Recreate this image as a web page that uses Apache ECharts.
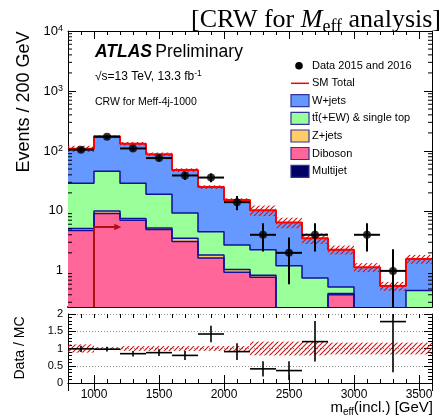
<!DOCTYPE html>
<html>
<head>
<meta charset="utf-8">
<title>CRW for Meff analysis</title>
<script src="https://cdn.jsdelivr.net/npm/echarts@6.0.0/dist/echarts.min.js"></script>
<style>
  html, body { margin: 0; padding: 0; background: #ffffff; }
  #chart { width: 442px; height: 416px; }
</style>
</head>
<body>
<div id="chart"></div>
<script>
// ---- m_eff binning (GeV) ----
const binLow = [800, 1000, 1200, 1400, 1600, 1800, 2000, 2200, 2400, 2600, 2800, 3000, 3200, 3400];
const binWidth = 200;

// ---- background predictions, events / 200 GeV ----
const wjets    = [80, 130, 103, 69, 38.8, 20.5, 12.5, 8.0, 5.2, 2.75, 1.72, 0.95, 0.36, 1.11];
const ttbar    = [23.8, 36, 21.5, 13.8, 5.7, 2.66, 1.65, 1.4, 1.02, 0.66, 0.12, 0.15, 0.15, 0.37];
const zjets    = [0.4, 0.9, 0.5, 0.3, 0.4, 0.2, 0.1, 0.07, 0.05, 0.05, 0.02, 0.02, 0.02, 0.05];
const diboson  = [4.68, 9.07, 6.98, 4.89, 3.09, 1.63, 0.95, 0.78, 0.15, 0.05, 0.40, 0.03, 0.03, 0.05];
const multijet = [0.02, 0.03, 0.02, 0.01, 0.01, 0.01, 0, 0, 0, 0, 0, 0, 0, 0];

// relative uncertainty on the SM total
const smRelUnc = [0.12, 0.04, 0.07, 0.07, 0.07, 0.07, 0.07, 0.2, 0.2, 0.2, 0.17, 0.17, 0.17, 0.17];

// ---- observed data 2015+2016 ----
const dataObs     = [105, 172, 110, 76, 39, 36, 14, 4, 2, 4, null, 4, 1, null];
const dataErrUp   = [10.2, 13.1, 10.5, 8.7, 6.2, 6.0, 3.7, 2.2, 1.6, 2.2, null, 2.2, 1.3, null];
const dataErrDown = [10.2, 13.1, 10.5, 8.7, 6.2, 6.0, 3.7, 1.9, 1.4, 1.9, null, 1.9, 1.0, null];

// ---- Data / MC ----
const ratioVal     = [0.99, 0.98, 0.85, 0.88, 0.80, 1.42, 0.91, 0.41, 0.36, 1.20, null, null, 1.78, null];
const ratioErrUp   = [0.09, 0.07, 0.08, 0.10, 0.13, 0.24, 0.24, 0.22, 0.27, 0.60, null, null, 1.80, null];
const ratioErrDown = [0.09, 0.07, 0.08, 0.10, 0.13, 0.24, 0.24, 0.22, 0.27, 0.58, null, null, 1.47, null];

// ---- selection arrow (m_eff > 1000 GeV) ----
const cutValue = 1000;
const cutArrowHeight = 5.4;
const cutArrowTip = 1210;

// ---- axis ranges / tick values ----
const xMin = 800, xMax = 3600;
const yMin = 0.25, yMax = 10000;
const yMinorTicks = [];
for (let e = -1; e <= 3; e++) {
  for (let m = 2; m <= 9; m++) {
    const v = m * Math.pow(10, e);
    if (v > yMin && v < yMax) yMinorTicks.push(v);
  }
}

const FONT = "'Liberation Sans', Arial, Helvetica, sans-serif";
const SERIF = "'Liberation Serif', 'Times New Roman', serif";
const OUTLINE = '#10109a';

const samples = [
  { name: 'Multijet', values: multijet, color: '#000066' },
  { name: 'Diboson', values: diboson, color: '#ff6699' },
  { name: 'Z+jets', values: zjets, color: '#ffcc66' },
  { name: 'tt\u0304(+EW) & single top', values: ttbar, color: '#99ff99' },
  { name: 'W+jets', values: wjets, color: '#6699ff' }
];

// cumulative stack levels, bottom to top
let running = binLow.map(() => 0);
const cumLevels = samples.map(s => {
  running = running.map((r, i) => r + s.values[i]);
  return running.slice();
});
const smTotal = cumLevels[cumLevels.length - 1];

function makeHatch(color) {
  const c = document.createElement('canvas');
  const s = 5;
  c.width = s; c.height = s;
  const g = c.getContext('2d');
  g.strokeStyle = color;
  g.lineWidth = 1.1;
  g.beginPath();
  g.moveTo(0, s); g.lineTo(s, 0);
  g.moveTo(-1, 1); g.lineTo(1, -1);
  g.moveTo(s - 1, s + 1); g.lineTo(s + 1, s - 1);
  g.stroke();
  return c;
}
const hatch = { image: makeHatch('#d01010'), repeat: 'repeat' };

function stackFill(levels, color, z) {
  return {
    type: 'custom', xAxisIndex: 0, yAxisIndex: 0, z: z, silent: true, clip: true,
    data: binLow.map((x, i) => [x, x + binWidth, levels[i]]),
    encode: { x: [0, 1], y: 2 },
    renderItem: (params, api) => {
      const top = api.value(2);
      if (!(top > yMin)) return null;
      const a = api.coord([api.value(0), Math.min(top, yMax)]);
      const b = api.coord([api.value(1), yMin]);
      return { type: 'rect', shape: { x: a[0], y: a[1], width: b[0] - a[0], height: b[1] - a[1] },
               style: { fill: color } };
    }
  };
}

function stepLine(levels, color, width, z) {
  const pts = binLow.map((x, i) => [x, Math.max(levels[i], 1e-3)]);
  pts.push([xMax, Math.max(levels[levels.length - 1], 1e-3)]);
  return {
    type: 'line', xAxisIndex: 0, yAxisIndex: 0, step: 'end', data: pts, symbol: 'none',
    lineStyle: { color: color, width: width }, z: z, silent: true, clip: true
  };
}

const series = [];
// filled stack, painted from the top level down
for (let k = samples.length - 1; k >= 0; k--) {
  series.push(stackFill(cumLevels[k], samples[k].color, 2 + (samples.length - k)));
}
for (let k = samples.length - 2; k >= 0; k--) {
  series.push(stepLine(cumLevels[k], OUTLINE, 1.5, 10));
}

// SM uncertainty band (main panel)
series.push({
  type: 'custom', xAxisIndex: 0, yAxisIndex: 0, z: 12, silent: true, clip: true,
  data: binLow.map((x, i) => [x, x + binWidth, smTotal[i] * (1 - smRelUnc[i]), smTotal[i] * (1 + smRelUnc[i])]),
  encode: { x: [0, 1], y: [2, 3] },
  renderItem: (params, api) => {
    const lo = Math.max(api.value(2), yMin), hi = api.value(3);
    if (hi <= yMin) return null;
    const a = api.coord([api.value(0), hi]);
    const b = api.coord([api.value(1), lo]);
    return { type: 'rect', shape: { x: a[0], y: a[1], width: b[0] - a[0], height: b[1] - a[1] },
             style: { fill: hatch } };
  }
});

// cut arrow
series.push({
  type: 'custom', xAxisIndex: 0, yAxisIndex: 0, z: 13, silent: true, clip: true,
  data: [[cutValue, cutArrowHeight, cutArrowTip]],
  encode: { x: [0, 2], y: 1 },
  renderItem: (params, api) => {
    const base = api.coord([api.value(0), yMin]);
    const top = api.coord([api.value(0), api.value(1)]);
    const tip = api.coord([api.value(2), api.value(1)]);
    const col = '#b01010';
    return { type: 'group', children: [
      { type: 'polyline', shape: { points: [base, top, [tip[0] - 5, tip[1]]] },
        style: { stroke: col, lineWidth: 2, fill: null } },
      { type: 'polygon', shape: { points: [[tip[0], tip[1]], [tip[0] - 7, tip[1] - 3.2], [tip[0] - 7, tip[1] + 3.2]] },
        style: { fill: col } }
    ] };
  }
});

// SM total
series.push(stepLine(smTotal, '#ff0000', 2, 14));

// data error bars + markers
const dataPts = [];
binLow.forEach((x, i) => {
  if (dataObs[i] != null) dataPts.push([x + binWidth / 2, dataObs[i], dataErrDown[i], dataErrUp[i]]);
});
series.push({
  type: 'custom', xAxisIndex: 0, yAxisIndex: 0, z: 20, silent: true, clip: true,
  data: dataPts,
  encode: { x: 0, y: 1 },
  renderItem: (params, api) => {
    const xc = api.value(0), y = api.value(1);
    const lo = Math.max(y - api.value(2), yMin * 0.5), hi = y + api.value(3);
    const l = api.coord([xc - binWidth / 2, y]), r = api.coord([xc + binWidth / 2, y]);
    const d = api.coord([xc, lo]), u = api.coord([xc, hi]);
    return { type: 'group', children: [
      { type: 'line', shape: { x1: l[0], y1: l[1], x2: r[0], y2: r[1] }, style: { stroke: '#000', lineWidth: 2 } },
      { type: 'line', shape: { x1: d[0], y1: d[1], x2: u[0], y2: u[1] }, style: { stroke: '#000', lineWidth: 2 } }
    ] };
  }
});
series.push({
  type: 'scatter', xAxisIndex: 0, yAxisIndex: 0, z: 21, silent: true,
  symbol: 'circle', symbolSize: 8, itemStyle: { color: '#000' },
  data: dataPts.map(p => [p[0], p[1]])
});

// minor ticks of the log axis (both sides)
series.push({
  type: 'custom', xAxisIndex: 0, yAxisIndex: 0, z: 30, silent: true, clip: false,
  data: yMinorTicks.map(v => [xMin, v]),
  encode: { x: 0, y: 1 },
  renderItem: (params, api) => {
    const v = api.value(1);
    const l = api.coord([xMin, v]), r = api.coord([xMax, v]);
    return { type: 'group', children: [
      { type: 'line', shape: { x1: l[0], y1: l[1], x2: l[0] + 4, y2: l[1] }, style: { stroke: '#000', lineWidth: 1 } },
      { type: 'line', shape: { x1: r[0] - 4, y1: r[1], x2: r[0], y2: r[1] }, style: { stroke: '#000', lineWidth: 1 } }
    ] };
  }
});

// ratio panel: MC uncertainty band
series.push({
  type: 'custom', xAxisIndex: 4, yAxisIndex: 2, z: 5, silent: true, clip: true,
  data: binLow.map((x, i) => [x, x + binWidth, 1 - smRelUnc[i], 1 + smRelUnc[i]]),
  encode: { x: [0, 1], y: [2, 3] },
  renderItem: (params, api) => {
    const a = api.coord([api.value(0), api.value(3)]);
    const b = api.coord([api.value(1), api.value(2)]);
    return { type: 'rect', shape: { x: a[0], y: a[1], width: b[0] - a[0], height: b[1] - a[1] },
             style: { fill: hatch } };
  }
});

// ratio panel: data / MC
const ratioPts = [];
binLow.forEach((x, i) => {
  if (ratioVal[i] != null) ratioPts.push([x + binWidth / 2, ratioVal[i], ratioErrDown[i], ratioErrUp[i]]);
});
series.push({
  type: 'custom', xAxisIndex: 4, yAxisIndex: 2, z: 20, silent: true, clip: true,
  data: ratioPts,
  encode: { x: 0, y: 1 },
  renderItem: (params, api) => {
    const xc = api.value(0), y = api.value(1);
    const lo = Math.max(y - api.value(2), 0), hi = Math.min(y + api.value(3), 2);
    const l = api.coord([xc - binWidth / 2, y]), r = api.coord([xc + binWidth / 2, y]);
    const d = api.coord([xc, lo]), u = api.coord([xc, hi]);
    return { type: 'group', children: [
      { type: 'line', shape: { x1: l[0], y1: l[1], x2: r[0], y2: r[1] }, style: { stroke: '#000', lineWidth: 1.6 } },
      { type: 'line', shape: { x1: d[0], y1: d[1], x2: u[0], y2: u[1] }, style: { stroke: '#000', lineWidth: 1.6 } }
    ] };
  }
});

// ---- axes ----
function xAxisDef(grid, pos, opts) {
  return Object.assign({
    gridIndex: grid, type: 'value', min: xMin, max: xMax, position: pos,
    axisLine: { show: true, lineStyle: { color: '#000', width: 1 } },
    axisTick: { show: true, inside: true, length: 8, lineStyle: { color: '#000', width: 1 } },
    axisLabel: { show: false },
    splitLine: { show: false }
  }, opts || {});
}
function xMinorDef(grid, pos) {
  return {
    gridIndex: grid, type: 'value', min: xMin, max: xMax, interval: 100, position: pos,
    axisLine: { show: false },
    axisTick: { show: true, inside: true, length: 4, lineStyle: { color: '#000', width: 1 } },
    axisLabel: { show: false }, splitLine: { show: false }
  };
}

const logLabel = v => {
  const e = Math.round(Math.log10(v));
  if (Math.abs(Math.pow(10, e) - v) > 1e-6 * v) return '';
  if (e === 0) return '1';
  if (e === 1) return '10';
  return '10{sup|' + e + '}';
};

const option = {
  animation: false,
  backgroundColor: '#ffffff',
  textStyle: { fontFamily: FONT, color: '#000' },
  grid: [
    { left: 68, top: 31, width: 364, height: 276, containLabel: false, outerBoundsMode: 'none' },
    { left: 68, top: 314, width: 364, height: 69, containLabel: false, outerBoundsMode: 'none' }
  ],
  xAxis: [
    xAxisDef(0, 'bottom', { axisLine: { show: true, lineStyle: { color: '#000066', width: 2 } } }),
    xAxisDef(0, 'top'),
    xMinorDef(0, 'bottom'),
    xMinorDef(0, 'top'),
    xAxisDef(1, 'bottom', {
      axisLabel: {
        show: true, color: '#000', fontSize: 12, fontFamily: FONT, margin: 6,
        showMinLabel: false, showMaxLabel: false,
        formatter: v => (v % 500 === 0 ? String(v) : '')
      }
    }),
    xAxisDef(1, 'top'),
    xMinorDef(1, 'bottom'),
    xMinorDef(1, 'top')
  ],
  yAxis: [
    {
      gridIndex: 0, type: 'log', logBase: 10, min: yMin, max: yMax, position: 'left',
      axisLine: { show: true, lineStyle: { color: '#000', width: 1 } },
      axisTick: { show: true, inside: true, length: 8, lineStyle: { color: '#000' } },
      axisLabel: {
        show: true, color: '#000', fontSize: 13, fontFamily: FONT, margin: 5,
        formatter: logLabel,
        rich: { sup: { fontSize: 9, fontFamily: FONT, color: '#000', verticalAlign: 'top', lineHeight: 9 } }
      },
      splitLine: { show: false }
    },
    {
      gridIndex: 0, type: 'log', logBase: 10, min: yMin, max: yMax, position: 'right',
      axisLine: { show: true, lineStyle: { color: '#000', width: 1 } },
      axisTick: { show: true, inside: true, length: 8, lineStyle: { color: '#000' } },
      axisLabel: { show: false }, splitLine: { show: false }
    },
    {
      gridIndex: 1, type: 'value', min: 0, max: 2, interval: 0.5, position: 'left',
      axisLine: { show: true, lineStyle: { color: '#000', width: 1 } },
      axisTick: { show: true, inside: true, length: 8, lineStyle: { color: '#000' } },
      minorTick: { show: true, splitNumber: 5, length: 4, lineStyle: { color: '#000' } },
      axisLabel: { show: true, color: '#000', fontSize: 11, fontFamily: FONT, margin: 5 },
      splitLine: { show: true, lineStyle: { color: '#8c8c8c', type: [1, 2], width: 1 } }
    },
    {
      gridIndex: 1, type: 'value', min: 0, max: 2, interval: 0.5, position: 'right',
      axisLine: { show: true, lineStyle: { color: '#000', width: 1 } },
      axisTick: { show: true, inside: true, length: 8, lineStyle: { color: '#000' } },
      minorTick: { show: true, splitNumber: 5, length: 4, lineStyle: { color: '#000' } },
      axisLabel: { show: false }, splitLine: { show: false }
    }
  ],
  series: series,
  graphic: []
};

// ---- annotations and legend ----
const g = option.graphic;
g.push({
  type: 'text', x: 441, y: 20, z: 50, silent: true,
  style: {
    text: '[CRW for {it|M}{sub|eff} analysis]', align: 'right', verticalAlign: 'middle',
    fontSize: 26, fontFamily: SERIF, fill: '#000', lineHeight: 32,
    rich: {
      it: { fontSize: 26, fontFamily: SERIF, fontStyle: 'italic', fill: '#000' },
      sub: { fontSize: 18, fontFamily: SERIF, fill: '#000', lineHeight: 18, verticalAlign: 'bottom' }
    }
  }
});
g.push({
  type: 'text', x: 95, y: 52, z: 50, silent: true,
  style: {
    text: '{a|ATLAS} {b|Preliminary}', verticalAlign: 'middle', fill: '#000',
    rich: {
      a: { fontSize: 17.5, fontFamily: FONT, fontWeight: 'bold', fontStyle: 'italic', fill: '#000' },
      b: { fontSize: 17.5, fontFamily: FONT, fill: '#000' }
    }
  }
});
g.push({
  type: 'text', x: 95, y: 77, z: 50, silent: true,
  style: {
    text: '√s=13 TeV, 13.3 fb{sup|-1}', verticalAlign: 'middle', fontSize: 12, fontFamily: FONT, fill: '#000',
    lineHeight: 16,
    rich: { sup: { fontSize: 8.5, fontFamily: FONT, fill: '#000', verticalAlign: 'top', lineHeight: 9 } }
  }
});
g.push({
  type: 'text', x: 95, y: 102, z: 50, silent: true,
  style: { text: 'CRW for Meff-4j-1000', verticalAlign: 'middle', fontSize: 10.5, fontFamily: FONT, fill: '#000' }
});
g.push({
  type: 'text', x: 24, y: 102, rotation: Math.PI / 2, z: 50, silent: true,
  style: { text: 'Events / 200 GeV', align: 'center', verticalAlign: 'middle', fontSize: 18, fontFamily: FONT, fill: '#000' }
});
g.push({
  type: 'text', x: 20, y: 348, rotation: Math.PI / 2, z: 50, silent: true,
  style: { text: 'Data / MC', align: 'center', verticalAlign: 'middle', fontSize: 14, fontFamily: FONT, fill: '#000' }
});
g.push({
  type: 'text', x: 433, y: 408, z: 50, silent: true,
  style: {
    text: 'm{sub|eff}(incl.) [GeV]', align: 'right', verticalAlign: 'middle', fontSize: 15, fontFamily: FONT,
    fill: '#000', lineHeight: 18,
    rich: { sub: { fontSize: 10, fontFamily: FONT, fill: '#000', verticalAlign: 'bottom', lineHeight: 10 } }
  }
});

// legend
const legX = 291, legTextX = 312;
g.push({ type: 'circle', shape: { cx: 299, cy: 65.7, r: 3.8 }, style: { fill: '#000' }, z: 50, silent: true });
g.push({ type: 'text', x: legTextX, y: 65.7, z: 50, silent: true,
  style: { text: 'Data 2015 and 2016', verticalAlign: 'middle', fontSize: 11, fontFamily: FONT, fill: '#000' } });
g.push({ type: 'line', shape: { x1: legX, y1: 83.3, x2: legX + 18, y2: 83.3 }, style: { stroke: '#ff0000', lineWidth: 1.5 }, z: 50, silent: true });
g.push({ type: 'text', x: legTextX, y: 83.3, z: 50, silent: true,
  style: { text: 'SM Total', verticalAlign: 'middle', fontSize: 11, fontFamily: FONT, fill: '#000' } });
const legendRows = [samples[4], samples[3], samples[2], samples[1], samples[0]];
const legendY = [100.7, 118.3, 136, 153.5, 171.3];
legendRows.forEach((s, i) => {
  g.push({ type: 'rect', shape: { x: legX, y: legendY[i] - 6, width: 18, height: 12 },
    style: { fill: s.color, stroke: '#333399', lineWidth: 1.2 }, z: 50, silent: true });
  g.push({ type: 'text', x: legTextX, y: legendY[i], z: 50, silent: true,
    style: { text: s.name, verticalAlign: 'middle', fontSize: 11, fontFamily: FONT, fill: '#000' } });
});

const chart = echarts.init(document.getElementById('chart'), null, { renderer: 'canvas' });
chart.setOption(option);
</script>
</body>
</html>
